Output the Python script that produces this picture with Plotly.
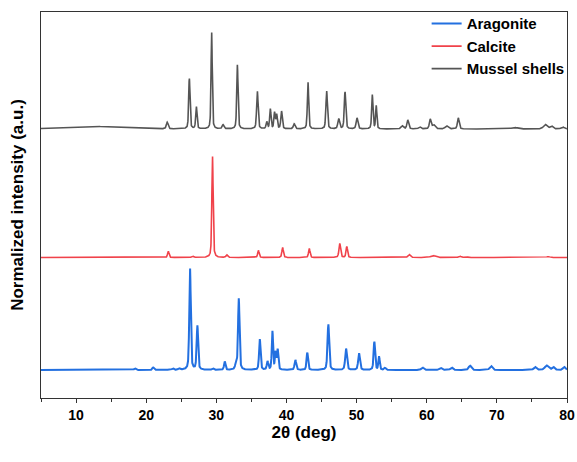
import numpy as np
import plotly.graph_objects as go

# ---- data (peak position 2θ, height a.u., FWHM deg) ----
two_theta_min, two_theta_max = 5, 80

aragonite_offset = 28
aragonite_pos = [18.4, 21.0, 23.8, 24.7, 26.25, 27.3, 29.5, 31.2, 32.8, 33.2, 36.2, 37.3, 38.0, 38.45, 38.75,
                 41.27, 42.97, 45.97, 48.5, 50.35, 52.53, 53.2, 54.05, 59.4, 62.0, 63.56, 66.17, 69.17,
                 75.45, 77.1, 78.05, 79.6]
aragonite_h = [1.5, 2.5, 1.5, 1.5, 101.7, 44, 1.5, 8.3, 5, 71.3, 30.7, 8.3, 38.3, 17, 20,
               10, 17.3, 45.7, 21.3, 16.7, 28.3, 13.3, 2, 2.5, 2, 2.5, 4.3, 4,
               3, 4.5, 3, 3]
aragonite_w = [0.3, 0.3, 0.3, 0.3, 0.25, 0.25, 0.3, 0.25, 0.3, 0.25, 0.25, 0.25, 0.22, 0.22, 0.22,
               0.28, 0.25, 0.28, 0.3, 0.3, 0.25, 0.22, 0.3, 0.4, 0.4, 0.4, 0.45, 0.45,
               0.45, 0.6, 0.4, 0.4]

calcite_offset = 140.5
calcite_pos = [23.15, 26.6, 29.45, 31.5, 36.0, 39.45, 43.25, 47.6, 48.6, 57.5, 60.9, 64.7, 65.6, 77.3]
calcite_h = [6.3, 1.5, 101.6, 2.5, 7, 10, 9, 14, 11, 3, 2, 1.5, 1, 1]
calcite_w = [0.25, 0.3, 0.22, 0.3, 0.25, 0.25, 0.25, 0.28, 0.25, 0.4, 0.8, 0.4, 0.4, 0.5]

mussel_offset = 269
mussel_pos = [12.0, 23.0, 26.15, 27.15, 29.33, 30.95, 33.0, 35.85, 37.2, 37.7, 38.3, 38.6, 39.3, 41.1,
              43.07, 45.73, 47.45, 48.35, 50.06, 52.24, 52.8, 56.5, 57.3, 59.0, 60.5, 61.0, 62.85, 64.5,
              72.5, 76.9, 77.8, 79.4]
mussel_h = [2.8, 6.6, 50.6, 22, 97, 4, 64, 37.6, 6.7, 19.6, 16, 14, 17.6, 5,
            47, 38, 10, 37, 11, 34, 23, 3, 9, 2, 9.5, 4, 3, 11,
            1.5, 4.5, 3, 2]
mussel_w = [8.0, 0.3, 0.22, 0.22, 0.2, 0.3, 0.22, 0.25, 0.25, 0.22, 0.22, 0.22, 0.25, 0.3,
            0.22, 0.25, 0.3, 0.25, 0.3, 0.22, 0.2, 0.4, 0.3, 0.4, 0.3, 0.5, 0.5, 0.3,
            1.0, 0.6, 0.5, 0.5]

names = ["Aragonite", "Calcite", "Mussel shells"]
colors = ["#2370E0", "#F0424A", "#555555"]
widths = [2.0, 1.6, 1.6]

x = np.arange(two_theta_min, two_theta_max + 1e-9, 0.02)


def pattern(pos, h, w, offset, eta=0.45):
    y = np.full_like(x, float(offset))
    for c, a, fw in zip(pos, h, w):
        d = (x - c) / (fw / 2)
        y += a * (eta / (1 + d ** 2) + (1 - eta) * np.exp(-np.log(2) * d ** 2))
    return y


series = [
    pattern(aragonite_pos, aragonite_h, aragonite_w, aragonite_offset),
    pattern(calcite_pos, calcite_h, calcite_w, calcite_offset),
    pattern(mussel_pos, mussel_h, mussel_w, mussel_offset),
]

fig = go.Figure()
for name, ys, col, lw in zip(names, series, colors, widths):
    fig.add_trace(go.Scatter(x=x, y=ys, mode="lines", name=name,
                             line=dict(color=col, width=lw)))

fig.update_layout(
    width=577, height=462,
    margin=dict(l=41, r=10, t=12, b=64, autoexpand=False),
    paper_bgcolor="white", plot_bgcolor="white",
    font=dict(family="Liberation Sans, Arial", color="black"),
    showlegend=True,
    legend=dict(x=1.005, y=1.012, xanchor="right", yanchor="top",
                bgcolor="rgba(0,0,0,0)", font=dict(size=15, weight="bold"),
                tracegroupgap=0, itemwidth=30),
)
fig.update_xaxes(
    range=[two_theta_min, two_theta_max], dtick=10, tick0=0,
    ticks="outside", ticklen=4, tickwidth=1, tickcolor="#333",
    minor=dict(dtick=5, ticks="outside", ticklen=3, tickcolor="#333"),
    showline=True, linecolor="#333", linewidth=1.2, mirror=True,
    showgrid=False, zeroline=False, automargin=False,
    tickfont=dict(size=14, weight="bold"),
    title=dict(text="2θ (deg)", font=dict(size=17, weight="bold"), standoff=3),
)
fig.update_yaxes(
    range=[0, 386], showticklabels=False, ticks="",
    showline=True, linecolor="#333", linewidth=1.2, mirror=True,
    showgrid=False, zeroline=False, automargin=False,
    title=dict(text="Normalized intensity (a.u.)", font=dict(size=17, weight="bold"), standoff=11),
)

fig.write_html("out.html", config={"displayModeBar": False},
               post_script="document.body.style.margin='0';")
